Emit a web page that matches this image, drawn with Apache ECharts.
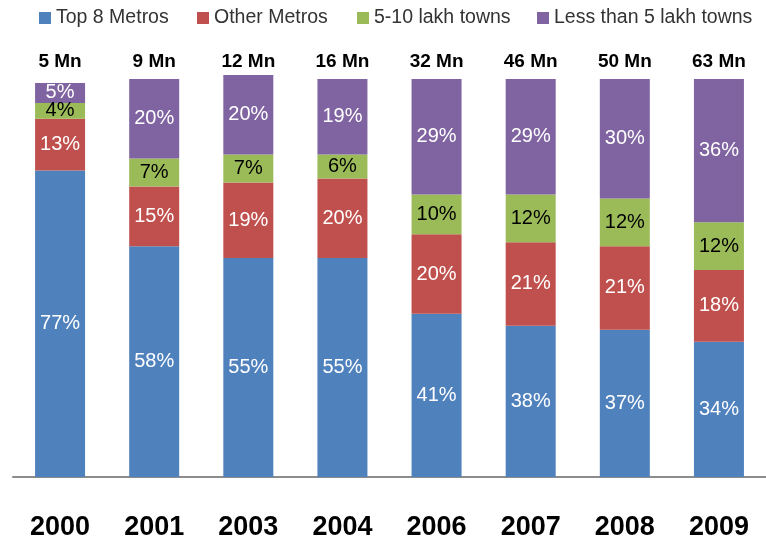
<!DOCTYPE html>
<html>
<head>
<meta charset="utf-8">
<script src="https://cdn.jsdelivr.net/npm/echarts@6/dist/echarts.min.js"></script>
<style>html,body{margin:0;padding:0;background:#fff;}#c{width:766px;height:541px;}</style>
</head>
<body>
<div id="c"></div>
<script>
const years = ['2000','2001','2003','2004','2006','2007','2008','2009'];
const totals = ['5 Mn','9 Mn','12 Mn','16 Mn','32 Mn','46 Mn','50 Mn','63 Mn'];
const seriesNames = ['Top 8 Metros','Other Metros','5-10 lakh towns','Less than 5 lakh towns'];
const top8Metros = [77,58,55,55,41,38,37,34];
const otherMetros = [13,15,19,20,20,21,21,18];
const lakh5to10 = [4,7,7,6,10,12,12,12];
const lessThan5Lakh = [5,20,20,19,29,29,30,36];

const colors = ['#4F81BD','#C0504D','#9BBB59','#8064A2'];
const labelColors = ['#fff','#fff','#000','#fff'];
const values = [top8Metros, otherMetros, lakh5to10, lessThan5Lakh];
const FONT = 'Liberation Sans';
const legendLefts = [39,197,357,537];

const chart = echarts.init(document.getElementById('c'), null, {renderer:'canvas'});
chart.setOption({
  animation:false,
  color: colors,
  textStyle:{fontFamily:FONT},
  legend: seriesNames.map((n,i)=>({
    data:[n], left:legendLefts[i], top:8, itemWidth:12, itemHeight:12, itemGap:0,
    icon:'rect', selectedMode:false,
    textStyle:{fontFamily:FONT, fontSize:19.5, color:'#333'},
    padding:0
  })),
  grid:{left:13, top:79, width:767, height:400, containLabel:false},
  xAxis:[
    {type:'category', data:years, position:'bottom',
     axisLine:{lineStyle:{color:'#8c8c8c', width:2}}, axisTick:{show:false},
     axisLabel:{fontFamily:FONT, fontSize:27, fontWeight:'bold', color:'#000', margin:37}},
    {type:'category', data:totals, position:'top',
     axisLine:{show:false}, axisTick:{show:false},
     axisLabel:{fontFamily:FONT, fontSize:19, fontWeight:'bold', color:'#000', margin:8}}
  ],
  yAxis:{type:'value', min:0, max:100, show:false, splitLine:{show:false}},
  series: seriesNames.map((n,i)=>({
    name:n, type:'bar', stack:'all', data:values[i], barWidth:50, clip:false,
    itemStyle:{color:colors[i]},
    label:{show:true, position:'inside', formatter:'{c}%', fontFamily:FONT, fontSize:20, color:labelColors[i]}
  }))
});
</script>
</body>
</html>
